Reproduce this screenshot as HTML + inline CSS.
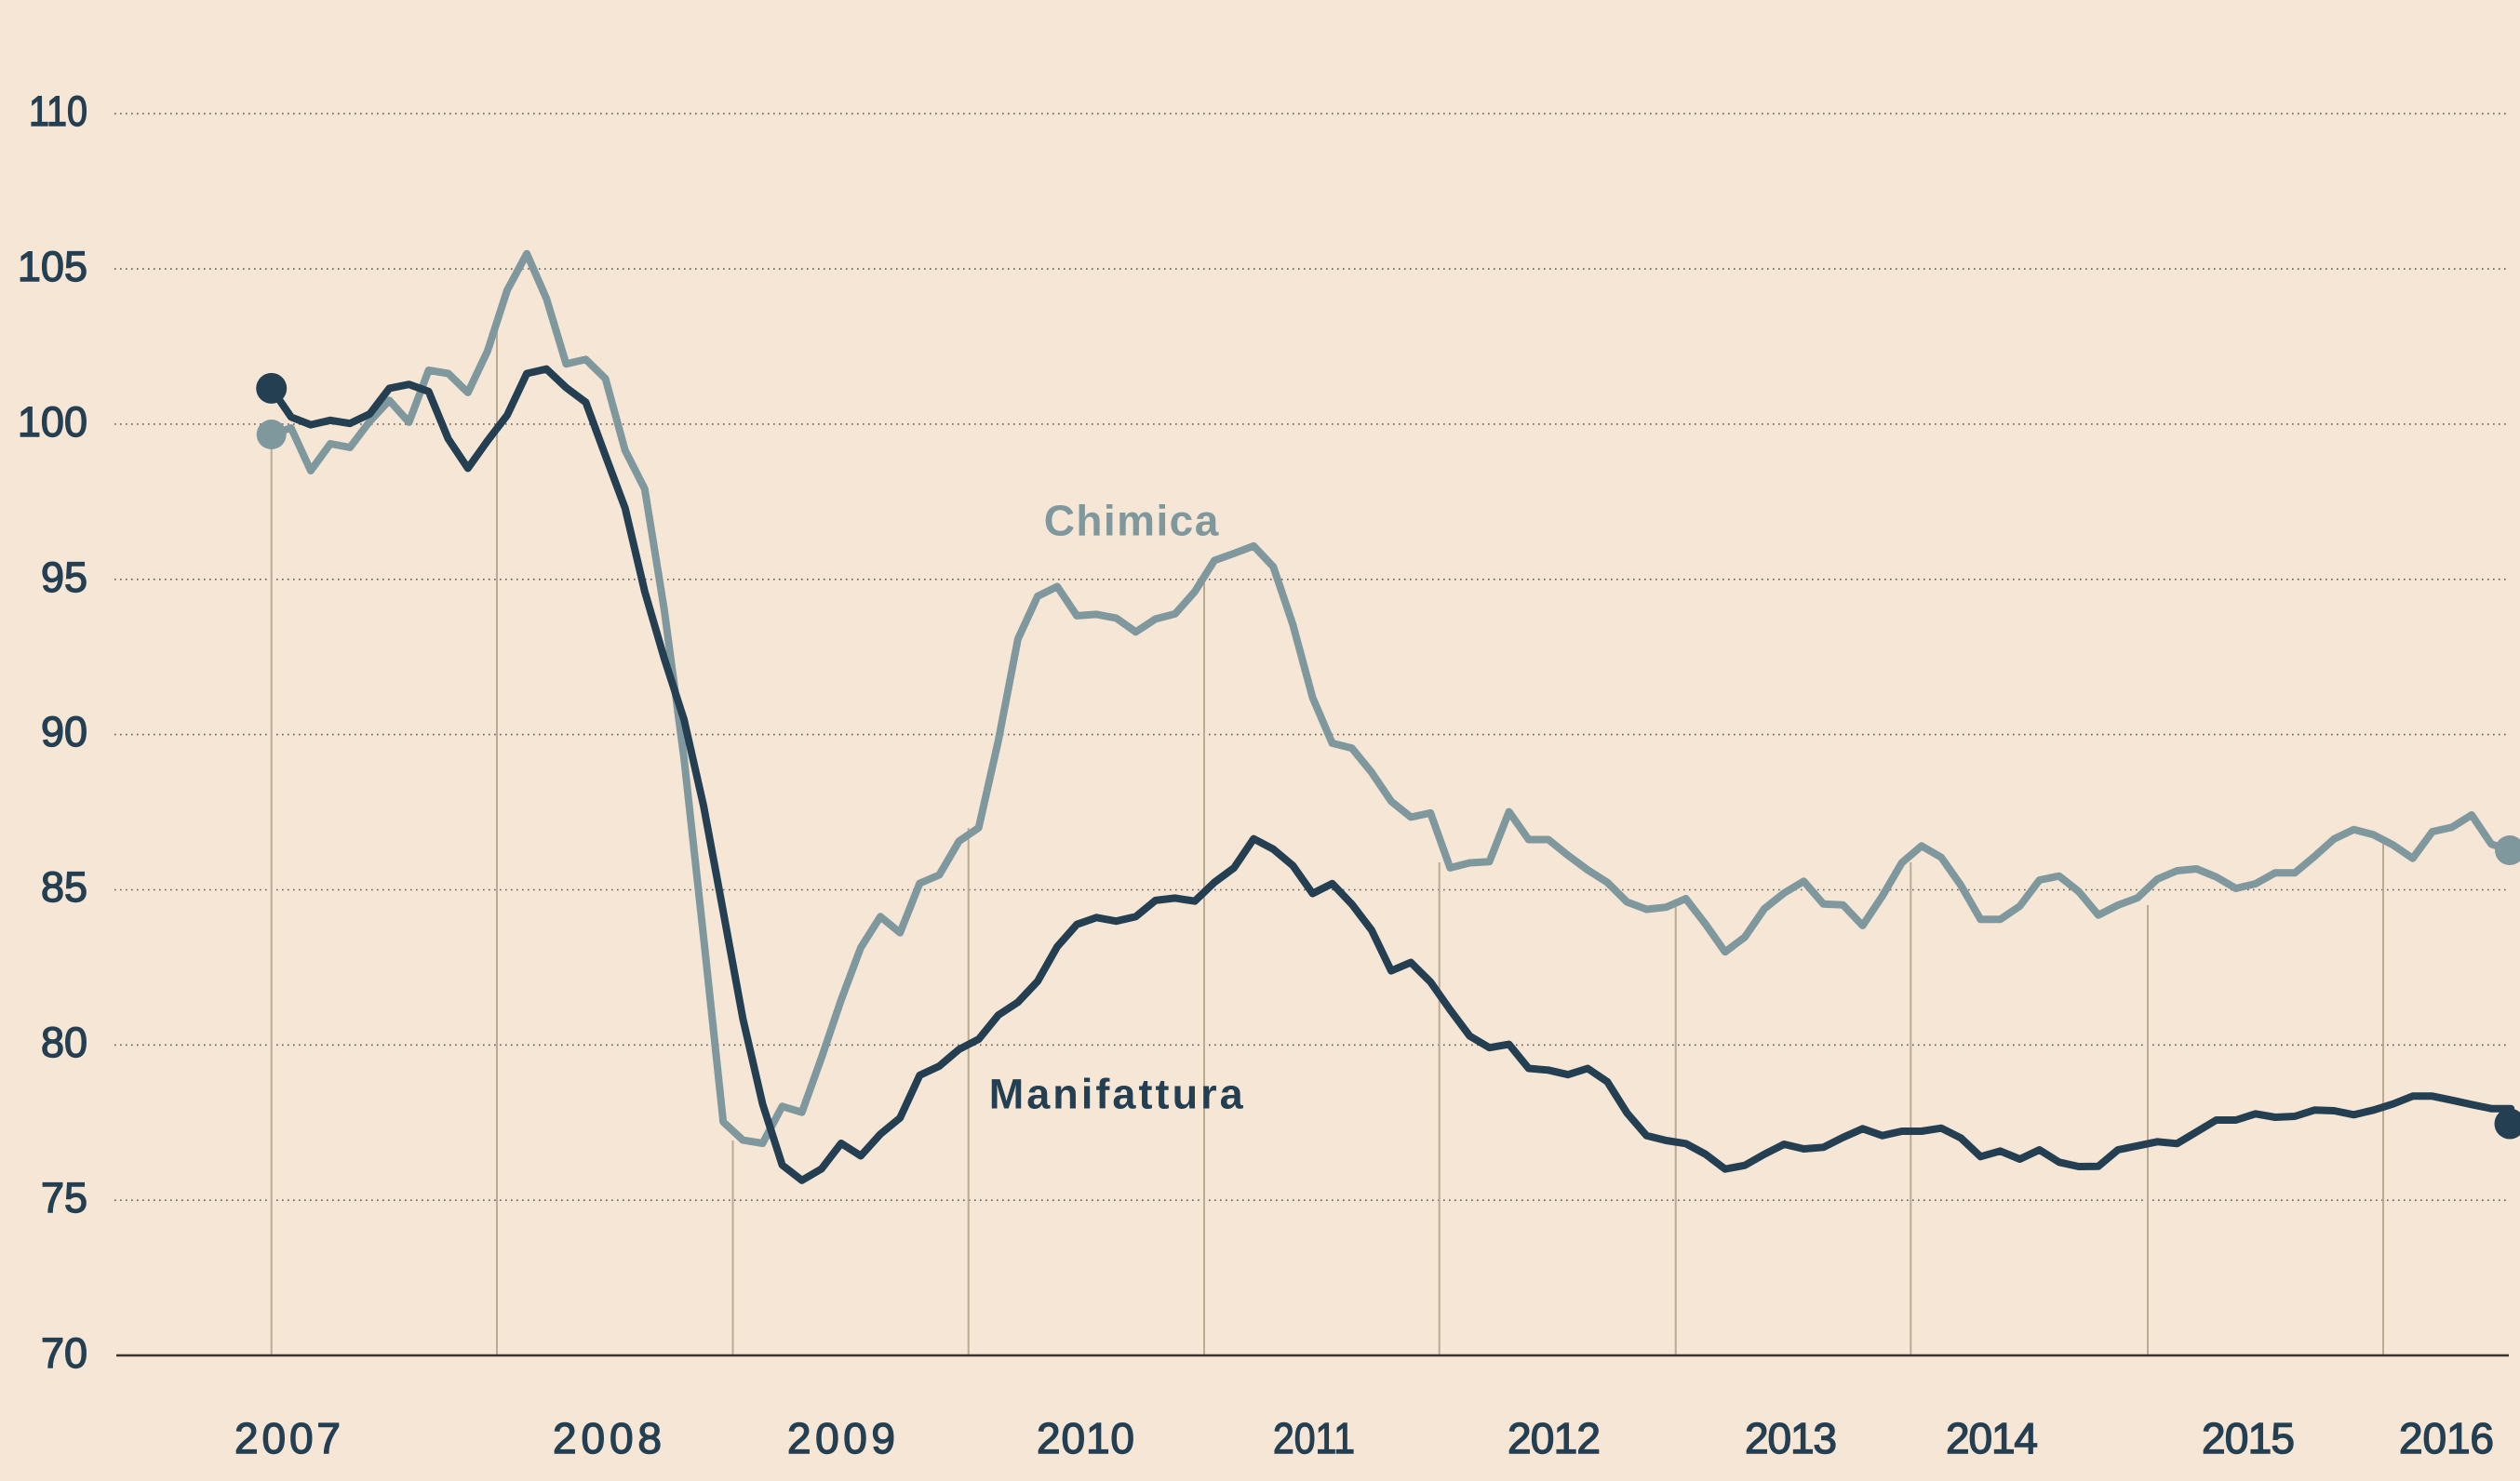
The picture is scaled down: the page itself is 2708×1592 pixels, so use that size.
<!DOCTYPE html>
<html>
<head>
<meta charset="utf-8">
<style>
html,body{margin:0;padding:0;background:#F5E6D6;}
svg{display:block;}
.ax{font-family:"Liberation Sans",sans-serif;font-size:45px;fill:#243F52;stroke:#243F52;stroke-width:1.4px;}
.yr{font-family:"Liberation Sans",sans-serif;font-size:46px;fill:#243F52;stroke:#243F52;stroke-width:1.4px;}
</style>
</head>
<body>
<svg width="2708" height="1592" viewBox="0 0 2708 1592" xmlns="http://www.w3.org/2000/svg">
<rect x="0" y="0" width="2708" height="1592" fill="#F5E6D6"/>

<!-- gridlines -->
<g stroke="#6e5d52" stroke-width="1.6" stroke-dasharray="1.6 4.4" fill="none">
<line x1="123" y1="122.2" x2="2696" y2="122.2"/>
<line x1="123" y1="289.1" x2="2696" y2="289.1"/>
<line x1="123" y1="455.9" x2="2696" y2="455.9"/>
<line x1="123" y1="622.8" x2="2696" y2="622.8"/>
<line x1="123" y1="789.6" x2="2696" y2="789.6"/>
<line x1="123" y1="956.5" x2="2696" y2="956.5"/>
<line x1="123" y1="1123.3" x2="2696" y2="1123.3"/>
<line x1="123" y1="1290.2" x2="2696" y2="1290.2"/>
</g>

<!-- y labels -->
<g class="ax" text-anchor="end">
<text x="94" y="135" textLength="63" lengthAdjust="spacingAndGlyphs">110</text>
<text x="94" y="302">105</text>
<text x="94" y="469">100</text>
<text x="94" y="636">95</text>
<text x="94" y="802">90</text>
<text x="94" y="969">85</text>
<text x="94" y="1136">80</text>
<text x="94" y="1303">75</text>
<text x="94" y="1470">70</text>
</g>

<!-- vertical lines -->
<g stroke="#BCA991" stroke-width="2">
<line x1="291.7" y1="467" x2="291.7" y2="1457"/>
<line x1="534" y1="353" x2="534" y2="1457"/>
<line x1="787.5" y1="1226" x2="787.5" y2="1457"/>
<line x1="1040.7" y1="890" x2="1040.7" y2="1457"/>
<line x1="1294" y1="627" x2="1294" y2="1457"/>
<line x1="1546.7" y1="927" x2="1546.7" y2="1457"/>
<line x1="1800.7" y1="975" x2="1800.7" y2="1457"/>
<line x1="2053.3" y1="927" x2="2053.3" y2="1457"/>
<line x1="2308" y1="973" x2="2308" y2="1457"/>
<line x1="2561" y1="907" x2="2561" y2="1457"/>
</g>

<!-- axis -->
<line x1="125" y1="1457" x2="2696" y2="1457" stroke="#3a3230" stroke-width="2.5"/>

<!-- Chimica -->
<polyline fill="none" stroke="#7F989E" stroke-width="8" stroke-linejoin="round" stroke-linecap="round" points="291.7,467 312.8,460 333.9,506 355.0,477 376.1,481 397.3,453 418.4,430.4 439.5,453.9 460.6,398 481.7,401.5 502.8,422 523.9,377.4 545.0,312 566.1,272.7 587.2,321 608.4,391.2 629.5,386.4 650.6,407 671.7,484 692.8,525.5 713.9,656 735.0,814.7 756.1,1007.6 777.2,1206 798.3,1225.6 819.5,1229 840.6,1189.3 861.7,1195.7 882.8,1137 903.9,1074.8 925.0,1018.6 946.1,985.3 967.2,1002.7 988.3,949.5 1009.4,940.5 1030.6,904.2 1051.7,889.8 1072.8,796.2 1093.9,686.8 1115.0,641 1136.1,630.5 1157.2,661.9 1178.3,660.4 1199.4,664.4 1220.5,679.3 1241.7,665.4 1262.8,659.9 1283.9,636 1305.0,602.5 1326.1,594.9 1347.2,586.9 1368.3,609.2 1389.4,671.7 1410.5,749.8 1431.6,798.9 1452.8,804.3 1473.9,830.2 1495.0,861.4 1516.1,878.4 1537.2,873.9 1558.3,932.9 1579.4,927.5 1600.5,926.2 1621.6,872.6 1642.7,902.5 1663.9,902.5 1685.0,919.5 1706.1,935.1 1727.2,948.5 1748.3,969.5 1769.4,977.5 1790.5,975.2 1811.6,966 1832.7,993.3 1853.8,1023.3 1875.0,1007.3 1896.1,976.7 1917.2,960 1938.3,947.3 1959.4,971.7 1980.5,972.7 2001.6,995 2022.7,963.3 2043.8,927.3 2064.9,909.3 2086.1,921.7 2107.2,951.7 2128.3,988.3 2149.4,988.3 2170.5,974 2191.6,946 2212.7,941.7 2233.8,958.3 2254.9,983.7 2276.0,973 2297.2,965 2318.3,945 2339.4,936 2360.5,934 2381.6,942.7 2402.7,955 2423.8,950 2444.9,938.3 2466.0,938.3 2487.1,920.7 2508.3,901.7 2529.4,891.7 2550.5,897.3 2571.6,908.3 2592.7,922.7 2613.8,894 2634.9,889.3 2656.0,876 2677.1,907.3 2698.2,914.3"/>

<!-- Manifattura -->
<polyline fill="none" stroke="#243F52" stroke-width="8" stroke-linejoin="round" stroke-linecap="round" points="291.7,417.4 312.8,448.3 333.9,456.6 355.0,451.8 376.1,455.2 397.3,445 418.4,417.4 439.5,413.2 460.6,420.8 481.7,471.8 502.8,503.4 523.9,473.8 545.0,446.3 566.1,401.5 587.2,396.7 608.4,416.7 629.5,432.5 650.6,489.7 671.7,546.1 692.8,635.7 713.9,708 735.0,773.4 756.1,866.4 777.2,980 798.3,1095 819.5,1186.8 840.6,1252.4 861.7,1268.8 882.8,1256.4 903.9,1229 925.0,1242.5 946.1,1219.1 967.2,1201.7 988.3,1155.9 1009.4,1146 1030.6,1128 1051.7,1117.1 1072.8,1091.2 1093.9,1077.3 1115.0,1054.9 1136.1,1017.6 1157.2,993.7 1178.3,986.3 1199.4,990.2 1220.5,985.3 1241.7,967.9 1262.8,965.4 1283.9,968.7 1305.0,948.5 1326.1,932.9 1347.2,901.6 1368.3,912.8 1389.4,930.6 1410.5,960.5 1431.6,949.8 1452.8,972.1 1473.9,999.8 1495.0,1043.6 1516.1,1034.6 1537.2,1055.6 1558.3,1085.5 1579.4,1113.7 1600.5,1126.2 1621.6,1122.6 1642.7,1148.5 1663.9,1150.3 1685.0,1155.2 1706.1,1148.5 1727.2,1162.8 1748.3,1196.3 1769.4,1220.8 1790.5,1226 1811.6,1229.3 1832.7,1240.7 1853.8,1256.7 1875.0,1252.7 1896.1,1240.7 1917.2,1230 1938.3,1235 1959.4,1233.3 1980.5,1222.7 2001.6,1213.3 2022.7,1220.7 2043.8,1216 2064.9,1216 2086.1,1212.7 2107.2,1223.3 2128.3,1243.3 2149.4,1237.3 2170.5,1246 2191.6,1236 2212.7,1249.3 2233.8,1254 2254.9,1253.7 2276.0,1236 2297.2,1231.7 2318.3,1227.3 2339.4,1229.3 2360.5,1216.7 2381.6,1204 2402.7,1204 2423.8,1197.3 2444.9,1201 2466.0,1200 2487.1,1193.3 2508.3,1194 2529.4,1198.3 2550.5,1193.3 2571.6,1186.7 2592.7,1178.3 2613.8,1178.3 2634.9,1182.7 2656.0,1187.3 2677.1,1191.7 2698.2,1191.7"/>

<!-- end dots -->
<circle cx="291.7" cy="467" r="16" fill="#7F989E"/>
<circle cx="291.7" cy="417.4" r="16.5" fill="#243F52"/>
<circle cx="2697" cy="914" r="16" fill="#7F989E"/>
<circle cx="2697" cy="1208" r="16.5" fill="#243F52"/>

<!-- series labels -->
<text x="1121.7" y="575.7" textLength="187.6" lengthAdjust="spacing" font-family="Liberation Sans, sans-serif" font-weight="bold" font-size="46" fill="#7F989E">Chimica</text>
<text x="1062.7" y="1191.7" textLength="273" lengthAdjust="spacing" font-family="Liberation Sans, sans-serif" font-weight="bold" font-size="45" fill="#243F52">Manifattura</text>

<!-- year labels -->
<g class="yr">
<text x="252" y="1562" textLength="114" lengthAdjust="spacing">2007</text>
<text x="594" y="1562" textLength="117" lengthAdjust="spacing">2008</text>
<text x="846" y="1562" textLength="116" lengthAdjust="spacing">2009</text>
<text x="1114" y="1562" textLength="105" lengthAdjust="spacing">2010</text>
<text x="1368" y="1562" textLength="88" lengthAdjust="spacingAndGlyphs">2011</text>
<text x="1620" y="1562" textLength="100" lengthAdjust="spacing">2012</text>
<text x="1875" y="1562" textLength="99" lengthAdjust="spacing">2013</text>
<text x="2091" y="1562" textLength="99" lengthAdjust="spacing">2014</text>
<text x="2366" y="1562" textLength="100" lengthAdjust="spacing">2015</text>
<text x="2578" y="1562" textLength="102" lengthAdjust="spacing">2016</text>
</g>
</svg>
</body>
</html>
